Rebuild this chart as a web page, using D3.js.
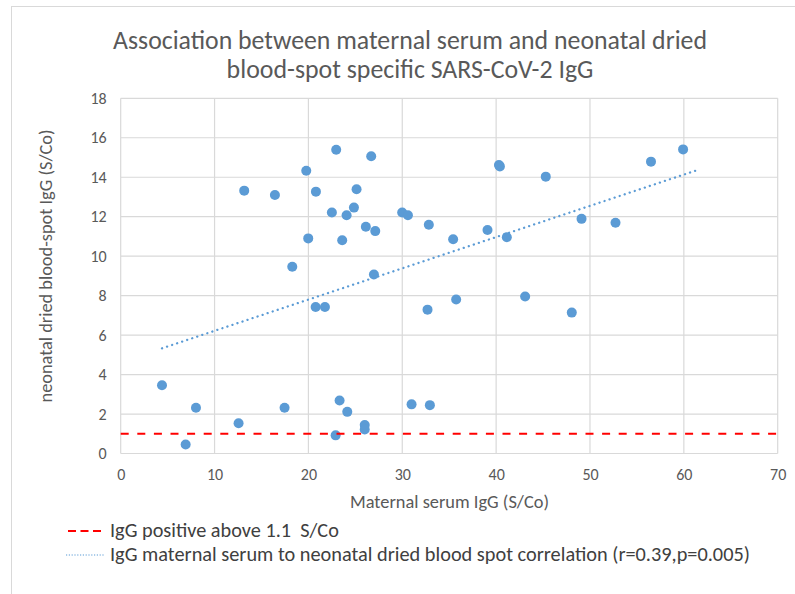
<!DOCTYPE html>
<html>
<head>
<meta charset="utf-8">
<script src="https://cdn.jsdelivr.net/npm/d3@7/dist/d3.min.js"></script>
<style>
  body { margin: 0; background: #fff; }
  svg { display: block; font-family: Carlito, "Open Sans", sans-serif; }
  text { white-space: pre; }
</style>
</head>
<body>
<script>
// values
const maternalIgG = [4.4, 6.92, 8.02, 12.56, 13.16, 16.43, 17.46, 18.28, 19.77, 19.98,
  20.77, 20.8, 21.76, 22.5, 22.9, 22.96, 23.32, 23.6, 24.07, 24.14,
  24.85, 25.13, 26.0, 26.0, 26.12, 26.69, 26.98, 27.12, 29.99, 30.6,
  30.99, 32.69, 32.83, 32.94, 35.42, 35.74, 39.08, 40.3, 40.4, 41.14,
  43.09, 45.29, 48.06, 49.1, 52.72, 56.5, 59.92];
const neonatalIgG = [3.46, 0.46, 2.32, 1.53, 13.32, 13.1, 2.32, 9.46, 14.33, 10.9,
  7.42, 13.27, 7.42, 12.21, 0.92, 15.39, 2.69, 10.81, 12.07, 2.11,
  12.46, 13.39, 1.44, 1.22, 11.49, 15.06, 9.07, 11.27, 12.21, 12.07,
  2.49, 7.29, 11.59, 2.45, 10.86, 7.8, 11.33, 14.62, 14.55, 10.96,
  7.96, 14.03, 7.14, 11.89, 11.69, 14.79, 15.41];

const trendX = [4.4, 61.5];
const trendY = [5.33, 14.37];
const cutoffX = [0, 70];
const cutoffY = [1.0, 1.0];

const xTicks = [0, 10, 20, 30, 40, 50, 60, 70];
const yTicks = [0, 2, 4, 6, 8, 10, 12, 14, 16, 18];

const titleLines = ['Association between maternal serum and neonatal dried',
  'blood-spot specific SARS-CoV-2 IgG'];
const xTitle = 'Maternal serum IgG (S/Co)';
const yTitle = 'neonatal dried blood-spot IgG (S/Co)';
const legendLabels = ['IgG positive above 1.1  S/Co',
  'IgG maternal serum to neonatal dried blood spot correlation (r=0.39,p=0.005)'];

const width = 795, height = 594;
const blue = '#5b9bd5';

const svg = d3.select('body').append('svg')
  .attr('width', width).attr('height', height);

// outer chart frame (runs off the right and bottom of the picture)
svg.append('rect')
  .attr('x', 11.5).attr('y', 6.5)
  .attr('width', 820).attr('height', 620)
  .attr('fill', 'none').attr('stroke', '#d9d9d9');

const x = d3.scaleLinear().domain([0, 70]).range([120.7, 777.7]);
const y = d3.scaleLinear().domain([0, 18]).range([453.5, 98.3]);

// shrink/grow a text so it spans the same width as in the reference
function fit(sel, target) {
  const w = sel.node().getComputedTextLength();
  const fs = parseFloat(sel.attr('font-size'));
  sel.attr('font-size', (fs * target / w).toFixed(2));
}

// grid
svg.append('g').selectAll('line')
  .data(xTicks).enter().append('line')
  .attr('x1', d => x(d)).attr('x2', d => x(d))
  .attr('y1', y(0)).attr('y2', y(18))
  .attr('stroke', '#d9d9d9').attr('stroke-width', 1.2);

svg.append('g').selectAll('line')
  .data(yTicks).enter().append('line')
  .attr('x1', x(0)).attr('x2', x(70))
  .attr('y1', d => y(d)).attr('y2', d => y(d))
  .attr('stroke', '#d9d9d9').attr('stroke-width', 1.2);

// tick labels via axes
svg.append('g')
  .attr('transform', `translate(0,${y(0)})`)
  .call(d3.axisBottom(x).tickValues(xTicks).tickSize(0).tickPadding(15))
  .call(g => g.select('.domain').remove())
  .call(g => g.selectAll('text')
    .attr('fill', '#595959').attr('font-size', 16)
    .attr('font-family', 'Carlito, "Open Sans", sans-serif'));

svg.append('g')
  .attr('transform', `translate(${x(0)},0)`)
  .call(d3.axisLeft(y).tickValues(yTicks).tickSize(0).tickPadding(14))
  .call(g => g.select('.domain').remove())
  .call(g => g.selectAll('text')
    .attr('fill', '#595959').attr('font-size', 16)
    .attr('font-family', 'Carlito, "Open Sans", sans-serif'));

// points
svg.append('g').selectAll('circle')
  .data(maternalIgG.map((v, i) => [v, neonatalIgG[i]]))
  .enter().append('circle')
  .attr('cx', d => x(d[0]))
  .attr('cy', d => y(d[1]))
  .attr('r', 5)
  .attr('fill', blue);

const line = d3.line().x(d => x(d[0])).y(d => y(d[1]));

// trendline
svg.append('path')
  .datum(trendX.map((v, i) => [v, trendY[i]]))
  .attr('d', line)
  .attr('fill', 'none')
  .attr('stroke', blue)
  .attr('stroke-width', 2.3)
  .attr('stroke-linecap', 'round')
  .attr('stroke-dasharray', '0.1,5.2');

// cutoff line
svg.append('path')
  .datum(cutoffX.map((v, i) => [v, cutoffY[i]]))
  .attr('d', line)
  .attr('fill', 'none')
  .attr('stroke', '#ff0000')
  .attr('stroke-width', 2.2)
  .attr('stroke-dasharray', '8,8.6');

// title
const tWidths = [594, 367];
const tBase = [49, 78];
titleLines.forEach((t, i) => {
  const txt = svg.append('text')
    .attr('x', 410).attr('y', tBase[i])
    .attr('text-anchor', 'middle')
    .attr('font-size', 22)
    .attr('fill', '#595959')
    .text(t);
  fit(txt, tWidths[i]);
});

// axis titles
const xt = svg.append('text')
  .attr('x', 449.5).attr('y', 508)
  .attr('text-anchor', 'middle')
  .attr('font-size', 15).attr('fill', '#595959')
  .text(xTitle);
fit(xt, 199);

const yt = svg.append('text')
  .attr('transform', 'translate(52,266) rotate(-90)')
  .attr('text-anchor', 'middle')
  .attr('font-size', 15).attr('fill', '#595959')
  .text(yTitle);
fit(yt, 273);

// legend
const legY = [531, 555];
svg.append('line')
  .attr('x1', 68).attr('x2', 102).attr('y1', legY[0]).attr('y2', legY[0])
  .attr('stroke', '#ff0000').attr('stroke-width', 2)
  .attr('stroke-dasharray', '8,4.5');
svg.append('line')
  .attr('x1', 66).attr('x2', 105).attr('y1', legY[1]).attr('y2', legY[1])
  .attr('stroke', blue).attr('stroke-width', 1.2)
  .attr('stroke-dasharray', '1.2,1.6');

const legW = [229, 640];
legendLabels.forEach((t, i) => {
  const txt = svg.append('text')
    .attr('x', 110).attr('y', legY[i] + 6)
    .attr('font-size', 17).attr('fill', '#404040')
    .text(t);
  fit(txt, legW[i]);
});
</script>
</body>
</html>
